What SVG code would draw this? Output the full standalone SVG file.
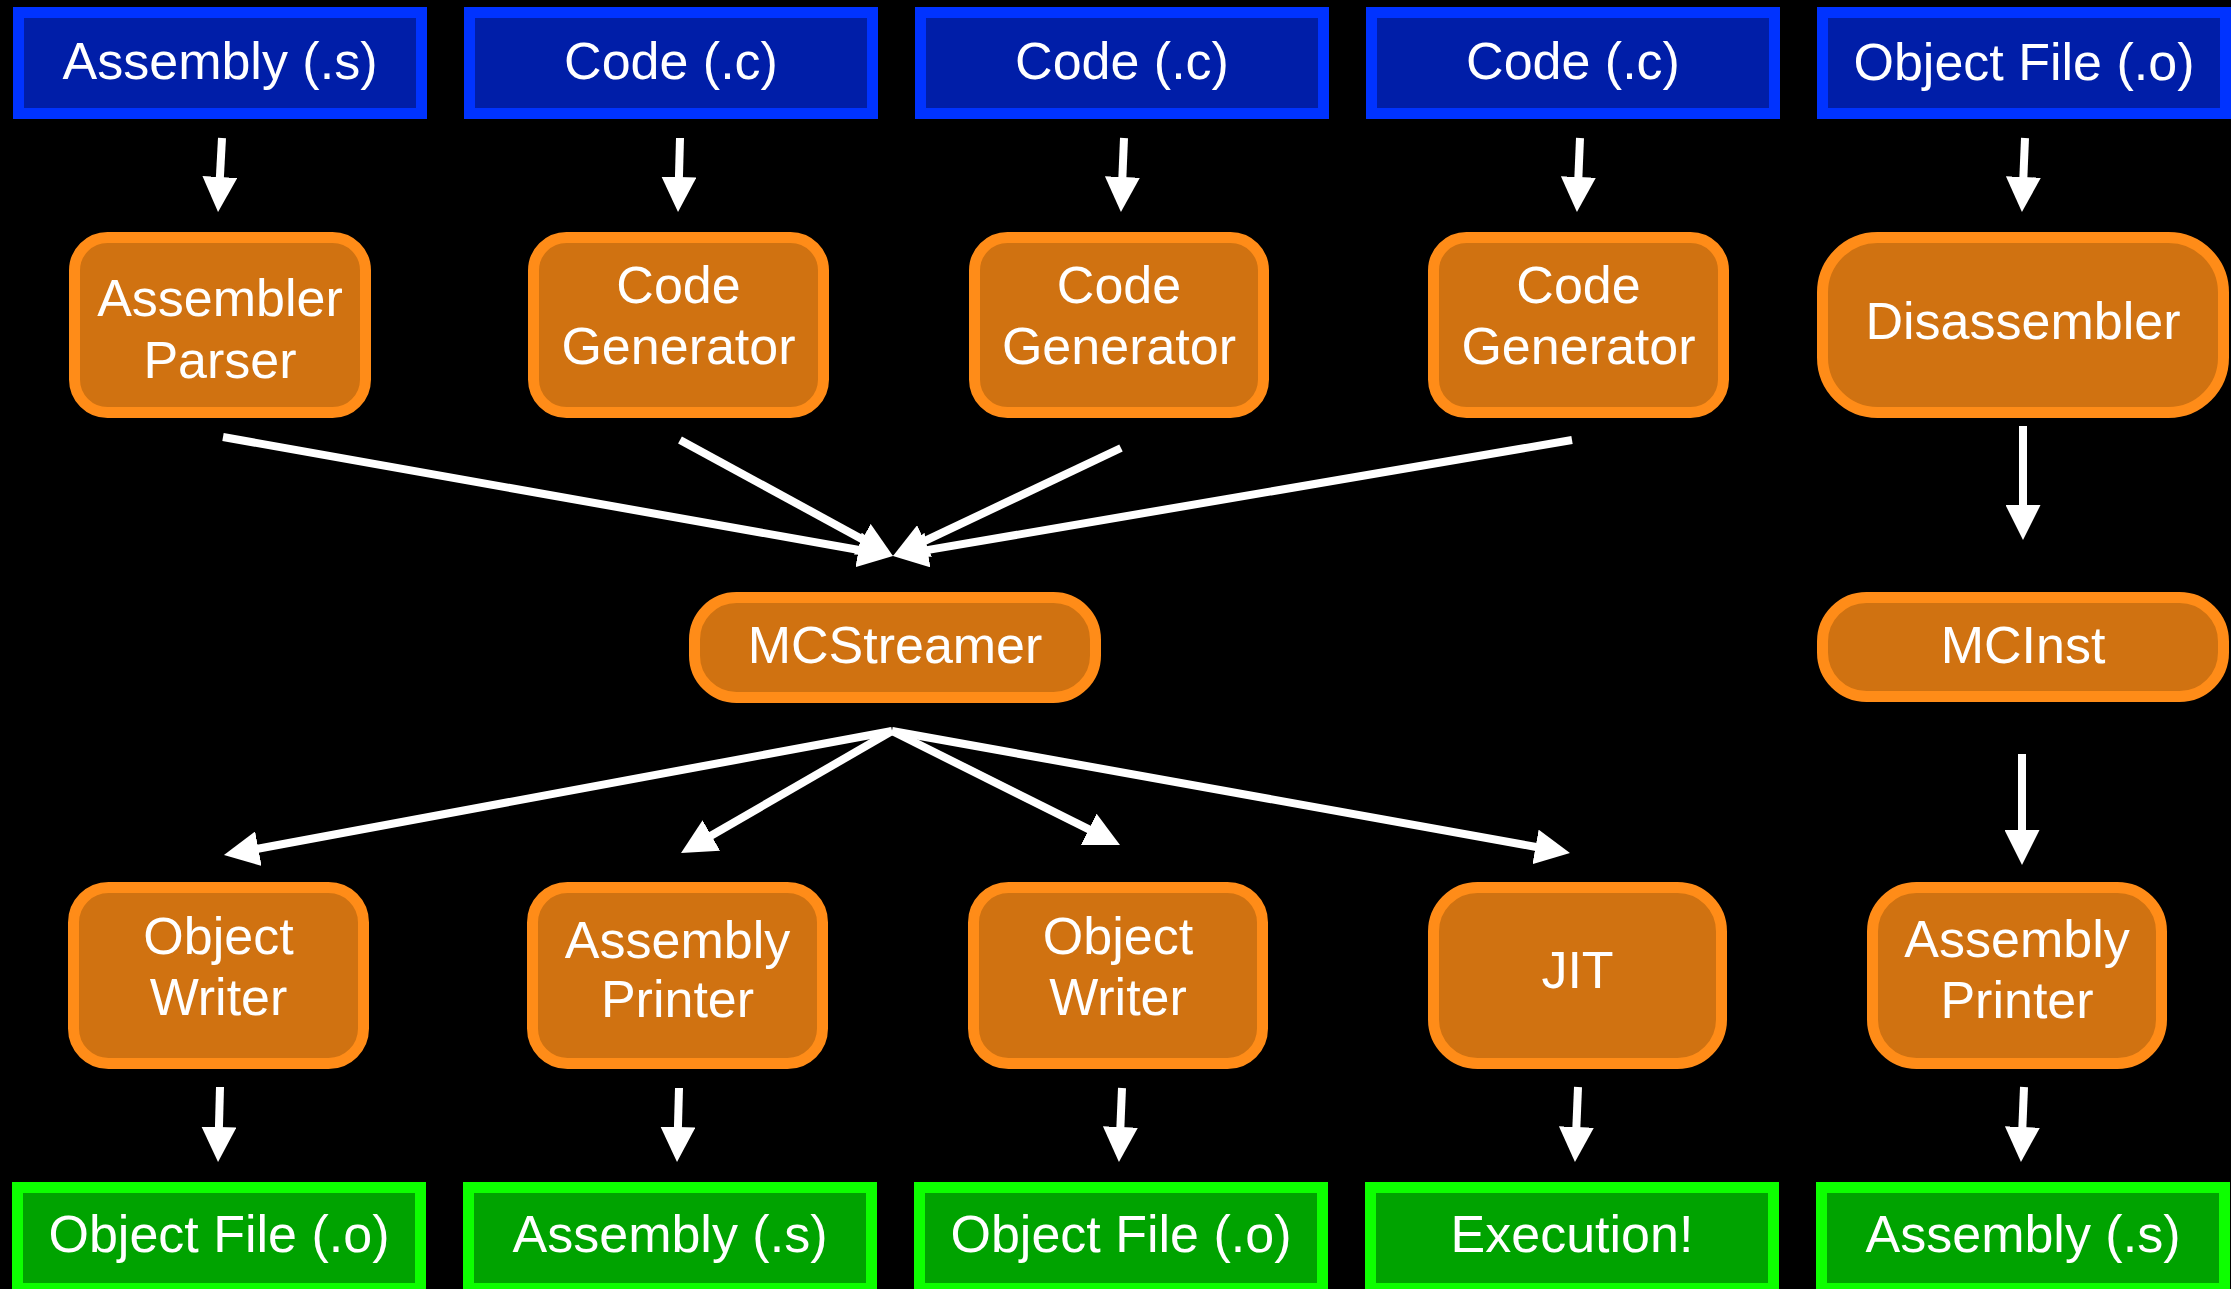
<svg xmlns="http://www.w3.org/2000/svg" width="2231" height="1289" viewBox="0 0 2231 1289">
  <defs>
    <style>
      .src rect { fill: #001ea8; stroke: #0033ff; stroke-width: 11; }
      .stage rect { fill: #d07211; stroke: #ff8c18; stroke-width: 11; }
      .out rect { fill: #00a300; stroke: #0dff00; stroke-width: 11; }
      text { font-family: "Liberation Sans", Arial, sans-serif; font-size: 52px; fill: #ffffff; text-anchor: middle; }
      .edge { stroke: #ffffff; stroke-width: 8; fill: none; marker-end: url(#head); }
    </style>
    <marker id="head" markerUnits="userSpaceOnUse" markerWidth="35" markerHeight="35" viewBox="0 0 35 35" refX="2" refY="17.5" orient="auto">
      <path d="M0,0 L35,17.5 L0,35 Z" fill="#ffffff"/>
    </marker>
  </defs>

  <rect x="0" y="0" width="2231" height="1289" fill="#000000"/>

  <!-- inputs -->
  <g id="in-asm" class="src"><rect x="18.5" y="12.5" width="403" height="101"/><text x="220" y="79">Assembly (.s)</text></g>
  <g id="in-c1" class="src"><rect x="469.5" y="12.5" width="403" height="101"/><text x="671" y="79">Code (.c)</text></g>
  <g id="in-c2" class="src"><rect x="920.5" y="12.5" width="403" height="101"/><text x="1122" y="79">Code (.c)</text></g>
  <g id="in-c3" class="src"><rect x="1371.5" y="12.5" width="403" height="101"/><text x="1573" y="79">Code (.c)</text></g>
  <g id="in-obj" class="src"><rect x="1822.5" y="12.5" width="403" height="101"/><text x="2024" y="80">Object File (.o)</text></g>

  <!-- producers -->
  <g id="asm-parser" class="stage"><rect x="74.5" y="237.5" width="291" height="175" rx="33"/><text x="220" y="316">Assembler</text><text x="220" y="378">Parser</text></g>
  <g id="codegen1" class="stage"><rect x="533.5" y="237.5" width="290" height="175" rx="33"/><text x="678.5" y="303">Code</text><text x="678.5" y="364">Generator</text></g>
  <g id="codegen2" class="stage"><rect x="974.5" y="237.5" width="289" height="175" rx="33"/><text x="1119" y="303">Code</text><text x="1119" y="364">Generator</text></g>
  <g id="codegen3" class="stage"><rect x="1433.5" y="237.5" width="290" height="175" rx="33"/><text x="1578.5" y="303">Code</text><text x="1578.5" y="364">Generator</text></g>
  <g id="disassembler" class="stage"><rect x="1822.5" y="237.5" width="401" height="175" rx="55"/><text x="2023" y="339">Disassembler</text></g>

  <!-- middle layer -->
  <g id="mcstreamer" class="stage"><rect x="694.5" y="597.5" width="401" height="100" rx="42"/><text x="895" y="663">MCStreamer</text></g>
  <g id="mcinst" class="stage"><rect x="1822.5" y="597.5" width="401" height="99" rx="44"/><text x="2023" y="663">MCInst</text></g>

  <!-- consumers -->
  <g id="objwriter1" class="stage"><rect x="73.5" y="887.5" width="290" height="176" rx="35"/><text x="218.5" y="954">Object</text><text x="218.5" y="1015">Writer</text></g>
  <g id="asmprinter1" class="stage"><rect x="532.5" y="887.5" width="290" height="176" rx="35"/><text x="677.5" y="958">Assembly</text><text x="677.5" y="1017">Printer</text></g>
  <g id="objwriter2" class="stage"><rect x="973.5" y="887.5" width="289" height="176" rx="35"/><text x="1118" y="954">Object</text><text x="1118" y="1015">Writer</text></g>
  <g id="jit" class="stage"><rect x="1433.5" y="887.5" width="288" height="176" rx="44"/><text x="1577.5" y="988">JIT</text></g>
  <g id="asmprinter2" class="stage"><rect x="1872.5" y="887.5" width="289" height="176" rx="44"/><text x="2017" y="957">Assembly</text><text x="2017" y="1018">Printer</text></g>

  <!-- outputs -->
  <g id="out-obj1" class="out"><rect x="17.5" y="1187.5" width="403" height="101"/><text x="219" y="1252">Object File (.o)</text></g>
  <g id="out-asm1" class="out"><rect x="468.5" y="1187.5" width="403" height="101"/><text x="670" y="1252">Assembly (.s)</text></g>
  <g id="out-obj2" class="out"><rect x="919.5" y="1187.5" width="403" height="101"/><text x="1121" y="1252">Object File (.o)</text></g>
  <g id="out-exec" class="out"><rect x="1370.5" y="1187.5" width="403" height="101"/><text x="1572" y="1252">Execution!</text></g>
  <g id="out-asm2" class="out"><rect x="1821.5" y="1187.5" width="403" height="101"/><text x="2023" y="1252">Assembly (.s)</text></g>

  <!-- connectors -->
  <g id="connectors">
    <path class="edge" d="M222,138 L219.8,179"/>
    <path class="edge" d="M680,138 L678.9,179"/>
    <path class="edge" d="M1124,138 L1122.3,179"/>
    <path class="edge" d="M1580,138 L1578.3,179"/>
    <path class="edge" d="M2025,138 L2023.3,179"/>

    <path class="edge" d="M223,437 L860.5,550.2"/>
    <path class="edge" d="M680,440 L864,540.2"/>
    <path class="edge" d="M1121,448 L922.8,541.9"/>
    <path class="edge" d="M1572,440 L925.5,550.4"/>

    <path class="edge" d="M892,731 L256.4,849"/>
    <path class="edge" d="M892,731 L709.6,836.5"/>
    <path class="edge" d="M892,731 L1090.5,830.2"/>
    <path class="edge" d="M892,731 L1537.5,847.2"/>

    <path class="edge" d="M2023,426 L2023,507"/>
    <path class="edge" d="M2022,754 L2022,832"/>

    <path class="edge" d="M220,1087 L218.9,1129"/>
    <path class="edge" d="M679,1088 L677.9,1129"/>
    <path class="edge" d="M1122,1088 L1120.3,1129"/>
    <path class="edge" d="M1578,1087 L1576.3,1129"/>
    <path class="edge" d="M2024,1087 L2022.3,1129"/>
  </g>
</svg>
